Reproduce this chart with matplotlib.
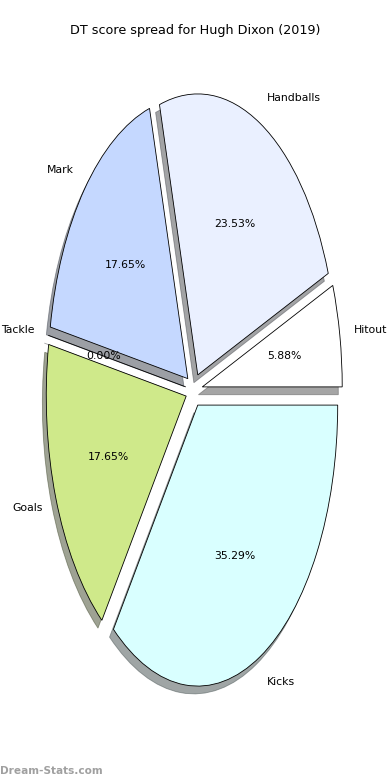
import matplotlib
matplotlib.use("Agg")
import matplotlib.pyplot as plt

labels = ["Hitout", "Handballs", "Mark", "Tackle", "Goals", "Kicks"]
scores = [1, 4, 3, 0, 3, 6]
colors = ["#ffffff", "#eaf0ff", "#c5d8ff", "#ffffff", "#cfe98a", "#d9ffff"]
explode = [0.06] * len(labels)

fig = plt.figure(figsize=(3.9, 7.8), dpi=100)
ax = fig.add_axes([0.049, 0.0497, 0.897, 0.9006])
ax.pie(scores, labels=labels, colors=colors, explode=explode, shadow=True,
       autopct="%1.2f%%", startangle=0,
       wedgeprops={"edgecolor": "black", "linewidth": 0.6},
       textprops={"fontsize": 7.8})
ax.set_aspect("auto")
fig.text(0.5, 0.961, "DT score spread for Hugh Dixon (2019)", ha="center",
         va="center", fontsize=9.2)
fig.text(0.0, 0.005, "Dream-Stats.com", color="#a0a0a0", fontsize=7.6,
         fontweight="bold", ha="left", va="bottom")

plt.savefig("out.png", dpi=100)
